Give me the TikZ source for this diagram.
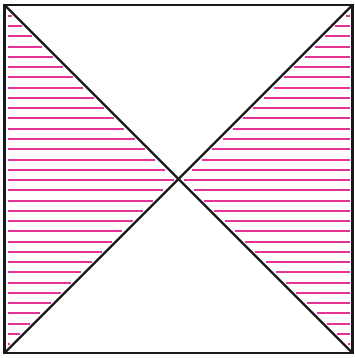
\documentclass[tikz,border=0pt]{standalone}
\definecolor{hatchpink}{RGB}{228,50,150}
\tikzset{
  frame/.style={draw=black!90, line width=2.2pt, line join=miter},
  hatch/.style={draw=hatchpink, line width=2pt}
}
\begin{document}
\begin{tikzpicture}[x=1pt,y=-1pt]
\useasboundingbox (0,0) rectangle (355,358);
\coordinate (tl) at (4.5,5);
\coordinate (tr) at (352.5,5);
\coordinate (br) at (352.5,353);
\coordinate (bl) at (4.5,353);
\coordinate (c) at (178.5,179);
\foreach \i in {0,...,32}{
  \pgfmathsetmacro{\yy}{16+10.25*\i}
  \pgfmathsetmacro{\dd}{min(\yy-5,353-\yy)}
  \pgfmathsetmacro{\le}{4.5+\dd-4}
  \pgfmathsetmacro{\rs}{352.5-\dd+4}
  \ifdim \le pt>8pt
    \draw[hatch] (7.5,\yy) -- (\le,\yy);
    \draw[hatch] (\rs,\yy) -- (350,\yy);
  \fi
}
\draw[frame] (tl) -- (tr) -- (br) -- (bl) -- cycle;
\draw[frame] (tl) -- (c) -- (br);
\draw[frame] (tr) -- (c) -- (bl);
\end{tikzpicture}
\end{document}
